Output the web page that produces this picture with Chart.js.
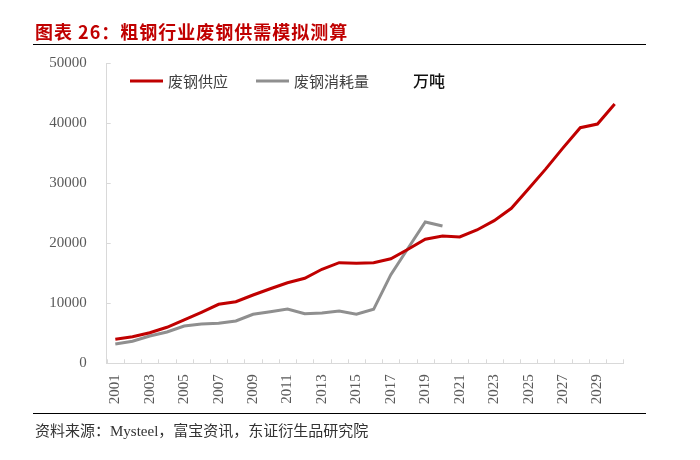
<!DOCTYPE html>
<html>
<head>
<meta charset="utf-8">
<script src="https://cdn.jsdelivr.net/npm/chart.js@4/dist/chart.umd.min.js"></script>
<style>
  html, body { margin: 0; padding: 0; background: #fff; }
  #wrap { position: relative; width: 700px; height: 460px; overflow: hidden; }
  #myChart { position: absolute; left: 0; top: 0; }
  #title { position: absolute; left: 35px; top: 18px; line-height: 20px; font: bold 18px "Noto Sans CJK SC"; letter-spacing: 1px; color: #C00000; white-space: nowrap; }
  .rule { position: absolute; left: 33px; width: 613px; height: 1px; background: #000; }
  #source { position: absolute; left: 35px; top: 423px; line-height: 17px; font-size: 15px; font-family: "Liberation Serif", "Noto Sans CJK SC"; color: #333; white-space: nowrap; }
</style>
</head>
<body>
<div id="wrap">
  <canvas id="myChart" width="700" height="460"></canvas>
  <div id="title">图表 26：粗钢行业废钢供需模拟测算</div>
  <div class="rule" style="top:44px"></div>
  <div class="rule" style="top:413px"></div>
  <div id="source">资料来源：Mysteel，富宝资讯，东证衍生品研究院</div>
</div>
<script>
'use strict';

// years on the x axis
var years = ['2001', '2002', '2003', '2004', '2005', '2006', '2007', '2008', '2009', '2010',
             '2011', '2012', '2013', '2014', '2015', '2016', '2017', '2018', '2019', '2020',
             '2021', '2022', '2023', '2024', '2025', '2026', '2027', '2028', '2029', '2030'];

// 废钢供应 (万吨), 2001-2030
var scrapSupply = [4000, 4430, 5100, 6000, 7220, 8500, 9830, 10270, 11380, 12430,
                   13430, 14170, 15670, 16770, 16670, 16770, 17430, 19000, 20670, 21220,
                   21050, 22220, 23770, 25830, 29100, 32400, 35900, 39270, 39880, 43220];

// 废钢消耗量 (万吨), only up to 2020
var scrapUse = [3220, 3670, 4550, 5220, 6220, 6550, 6670, 7050, 8170, 8600,
                9050, 8270, 8380, 8720, 8170, 9000, 14770, 19170, 23550, 22880,
                null, null, null, null, null, null, null, null, null, null];

var yTicks = [0, 10000, 20000, 30000, 40000, 50000];
var unitLabel = '万吨';

var axisGrey = '#d9d9d9';
var tickFont = { family: 'Liberation Serif', size: 15 };

// legend entries sit inside the plot, left x of each sample line
var legendX = [130, 256];
var legendY = 81;

// small inward tick marks, the legend and the unit text
var extras = {
  id: 'extras',
  afterDraw: function (chart) {
    var ctx = chart.ctx;
    var x = chart.scales.x;
    var y = chart.scales.y;
    var step = x.getPixelForValue(1) - x.getPixelForValue(0);
    ctx.save();
    ctx.strokeStyle = axisGrey;
    ctx.lineWidth = 1;
    ctx.beginPath();
    for (var i = 0; i <= years.length; i++) {
      var px = Math.round(x.getPixelForValue(i) - step / 2) + 0.5;
      ctx.moveTo(px, y.bottom);
      ctx.lineTo(px, y.bottom - 4);
    }
    for (var j = 1; j < yTicks.length; j++) {
      var py = Math.round(y.getPixelForValue(yTicks[j])) + 0.5;
      ctx.moveTo(x.left, py);
      ctx.lineTo(x.left + 4, py);
    }
    ctx.stroke();

    // legend
    ctx.font = '15px "Noto Sans CJK SC"';
    ctx.textBaseline = 'middle';
    chart.data.datasets.forEach(function (ds, k) {
      ctx.strokeStyle = ds.borderColor;
      ctx.lineWidth = 3;
      ctx.beginPath();
      ctx.moveTo(legendX[k], legendY);
      ctx.lineTo(legendX[k] + 33, legendY);
      ctx.stroke();
      ctx.fillStyle = '#404040';
      ctx.fillText(ds.label, legendX[k] + 38, legendY);
    });

    ctx.fillStyle = '#111';
    ctx.font = '500 16px "Noto Sans CJK SC"';
    ctx.fillText(unitLabel, 413, legendY);
    ctx.restore();
  }
};

var chart = new Chart(document.getElementById('myChart'), {
  type: 'line',
  data: {
    labels: years,
    datasets: [
      { label: '废钢供应', data: scrapSupply, borderColor: '#C00000', backgroundColor: '#C00000',
        borderWidth: 3, pointRadius: 0, tension: 0, spanGaps: false },
      { label: '废钢消耗量', data: scrapUse, borderColor: '#8F8F8F', backgroundColor: '#8F8F8F',
        borderWidth: 3, pointRadius: 0, tension: 0, spanGaps: false }
    ]
  },
  options: {
    responsive: false,
    animation: false,
    layout: { padding: { left: 36.7, right: 76.7, top: 63.3, bottom: 46.7 } },
    plugins: {
      tooltip: { enabled: false },
      legend: { display: false }
    },
    scales: {
      x: {
        offset: true,
        grid: { display: false, drawTicks: false, offset: true },
        border: { color: axisGrey, width: 1 },
        afterFit: function (scale) { scale.height = 50; },
        ticks: {
          autoSkip: false,
          minRotation: 90,
          maxRotation: 90,
          padding: 11,
          color: '#595959',
          font: tickFont,
          callback: function (val, index) {
            return index % 2 === 0 ? years[index] : '';
          }
        }
      },
      y: {
        min: 0,
        max: 50000,
        grid: { display: false, drawTicks: false },
        border: { color: axisGrey, width: 1 },
        afterFit: function (scale) { scale.width = 70; },
        afterBuildTicks: function (scale) {
          scale.ticks = yTicks.map(function (v) { return { value: v }; });
        },
        ticks: {
          padding: 20,
          color: '#595959',
          font: tickFont,
          callback: function (v) { return String(v); }
        }
      }
    }
  },
  plugins: [extras]
});
</script>
</body>
</html>
